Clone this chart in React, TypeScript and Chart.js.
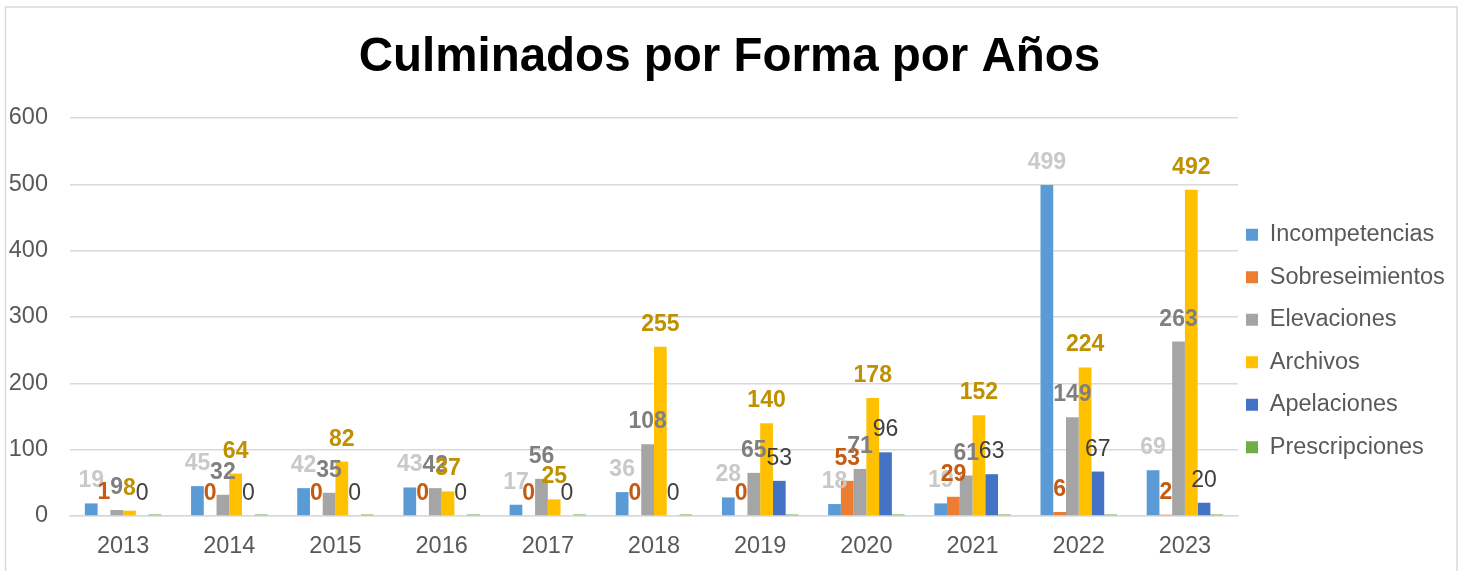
import React, { useEffect, useRef } from 'react';
import { Chart, registerables } from 'chart.js';

Chart.register(...registerables);

const years = ['2013', '2014', '2015', '2016', '2017', '2018', '2019', '2020', '2021', '2022', '2023'];
const incompetencias = [19, 45, 42, 43, 17, 36, 28, 18, 19, 499, 69];
const sobreseimientos = [1, 0, 0, 0, 0, 0, 0, 53, 29, 6, 2];
const elevaciones = [9, 32, 35, 42, 56, 108, 65, 71, 61, 149, 263];
const archivos = [8, 64, 82, 37, 25, 255, 140, 178, 152, 224, 492];
const apelaciones = [0, 0, 0, 0, 0, 0, 53, 96, 63, 67, 20];
const prescripciones = [0, 0, 0, 0, 0, 0, 0, 0, 0, 0, 0];

const titleText = 'Culminados por Forma por Años';
const yMin = 0;
const yMax = 600;
const yStep = 100;

const FONT = '"Liberation Sans", Arial, sans-serif';

const valueLabels = {
  id: 'valueLabels',
  afterDatasetsDraw(chart: any) {
    const ctx = chart.ctx;
    chart.data.datasets.forEach((ds: any, di: number) => {
      if (!ds.labelColor) return;
      const meta = chart.getDatasetMeta(di);
      ctx.save();
      ctx.font = `${ds.labelBold ? 'bold ' : ''}23px ${FONT}`;
      ctx.fillStyle = ds.labelColor;
      ctx.textAlign = 'center';
      ctx.textBaseline = 'alphabetic';
      meta.data.forEach((el: any, i: number) => {
        ctx.fillText(String(ds.data[i]), el.x, el.y - 16);
      });
      ctx.restore();
    });
  },
};

const frame = {
  id: 'frame',
  beforeDraw(chart: any) {
    const ctx = chart.ctx;
    ctx.save();
    ctx.fillStyle = '#ffffff';
    ctx.fillRect(0, 0, chart.width, chart.height);
    ctx.strokeStyle = '#d9d9d9';
    ctx.lineWidth = 1.5;
    ctx.beginPath();
    ctx.moveTo(5.5, chart.height);
    ctx.lineTo(5.5, 7);
    ctx.lineTo(1457, 7);
    ctx.lineTo(1457, chart.height);
    ctx.stroke();
    ctx.restore();
  },
};

const legendShift = {
  id: 'legendShift',
  afterLayout(chart: any) {
    const lg = chart.legend;
    if (!lg) return;
    lg.left -= 11;
    lg.right -= 11;
    lg.top += 24;
    lg.bottom += 24;
  },
};

export default function App() {
  const ref = useRef<HTMLCanvasElement | null>(null);

  useEffect(() => {
    if (!ref.current) return;
    Chart.defaults.font.family = FONT;
    const chart = new Chart(ref.current, {
      type: 'bar',
      data: {
        labels: years,
        datasets: [
          { label: 'Incompetencias', data: incompetencias, backgroundColor: '#5b9bd5', labelColor: '#c9c9c9', labelBold: true } as any,
          { label: 'Sobreseimientos', data: sobreseimientos, backgroundColor: '#ed7d31', labelColor: '#c55a11', labelBold: true } as any,
          { label: 'Elevaciones', data: elevaciones, backgroundColor: '#a5a5a5', labelColor: '#7f7f7f', labelBold: true } as any,
          { label: 'Archivos', data: archivos, backgroundColor: '#ffc000', labelColor: '#bf9000', labelBold: true } as any,
          { label: 'Apelaciones', data: apelaciones, backgroundColor: '#4472c4', labelColor: '#404040', labelBold: false } as any,
          { label: 'Prescripciones', data: prescripciones, backgroundColor: '#70ad47', minBarLength: 1.5 } as any,
        ],
      },
      options: {
        animation: false,
        responsive: false,
        maintainAspectRatio: false,
        datasets: { bar: { barPercentage: 1, categoryPercentage: 0.72 } },
        layout: { padding: { left: 0, right: 0, top: 0, bottom: 0 } },
        plugins: {
          title: {
            display: true,
            text: titleText,
            color: '#000000',
            font: { size: 47.5, weight: 'bold', family: FONT },
            padding: { top: 29.5, bottom: 31.5 },
          },
          legend: {
            display: true,
            position: 'right',
            fullSize: false,
            maxWidth: 221,
            labels: {
              boxWidth: 12,
              boxHeight: 12,
              padding: 19,
              color: '#595959',
              font: { size: 23.5, family: FONT },
            },
          },
          tooltip: { enabled: false },
        },
        scales: {
          x: {
            grid: { display: false, drawTicks: false },
            border: { display: true, color: '#d9d9d9', width: 1.5 },
            ticks: { color: '#595959', font: { size: 23.5 }, padding: 16 },
            afterFit: (scale: any) => {
              scale.height = 55;
            },
          },
          y: {
            min: yMin,
            max: yMax,
            ticks: { stepSize: yStep, color: '#595959', font: { size: 23.5 }, padding: 22 },
            grid: { color: '#d9d9d9', lineWidth: 1.5, drawTicks: false },
            border: { display: false },
            afterFit: (scale: any) => {
              scale.width = 70;
            },
          },
        },
      },
      plugins: [valueLabels, frame, legendShift],
    } as any);
    return () => chart.destroy();
  }, []);

  return (
    <div style={{ position: 'absolute', left: 0, top: 0, width: 1459, height: 571 }}>
      <canvas ref={ref} width={1459} height={571} style={{ width: 1459, height: 571, display: 'block' }} />
    </div>
  );
}
